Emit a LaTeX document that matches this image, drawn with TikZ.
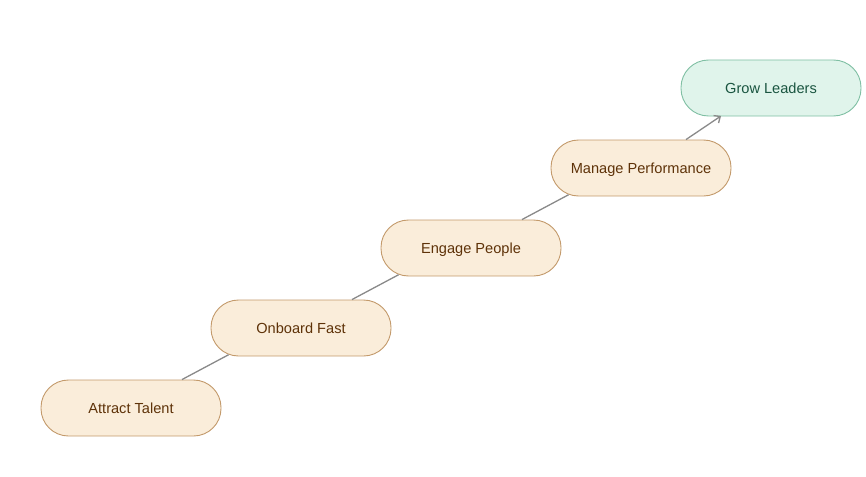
\documentclass[tikz,border=0pt]{standalone}
\usepackage{fontspec}
\setmainfont{Liberation Sans}
\usetikzlibrary{arrows.meta,calc}
\definecolor{sfill}{HTML}{FAEDDA}
\definecolor{sdraw}{HTML}{C39A6B}
\definecolor{stext}{HTML}{5E3208}
\definecolor{gfill}{HTML}{E0F4EB}
\definecolor{gdraw}{HTML}{7FBFA3}
\definecolor{gtext}{HTML}{1A5540}
\definecolor{lgray}{HTML}{8A8A8A}
\tikzset{
  x=1pt,y=-1pt,
  stepbox/.style={draw=sdraw,fill=sfill,text=stext,line width=0.9pt,
    rounded corners=27.5pt,minimum width=180pt,minimum height=56pt,
    inner sep=0pt,text height=10.5pt,text depth=0pt,
    font=\fontsize{14.6}{16}\selectfont},
  goalbox/.style={stepbox,draw=gdraw,fill=gfill,text=gtext},
  conn/.style={draw=lgray,line width=1.3pt},
}
\begin{document}
\begin{tikzpicture}
\useasboundingbox (0,0) rectangle (866,476);
\node[stepbox] (a) at (131,408) {Attract Talent};
\node[stepbox] (b) at (301,328) {Onboard Fast};
\node[stepbox] (c) at (471,248) {Engage People};
\node[stepbox] (d) at (641,168) {Manage Performance};
\node[goalbox] (e) at (771,88) {Grow Leaders};
\draw[conn] ($(a.north)+(51,0)$) -- ($(b.south west)+(18,-1.7)$);
\draw[conn] ($(b.north)+(51,0)$) -- ($(c.south west)+(18,-1.7)$);
\draw[conn] ($(c.north)+(51,0)$) -- ($(d.south west)+(18,-1.7)$);
\draw[conn,-{Straight Barb[length=5pt,width=9pt]}] ($(d.north)+(45,0)$) -- ($(e.south)+(-50,-0.5)$);
\end{tikzpicture}
\end{document}
